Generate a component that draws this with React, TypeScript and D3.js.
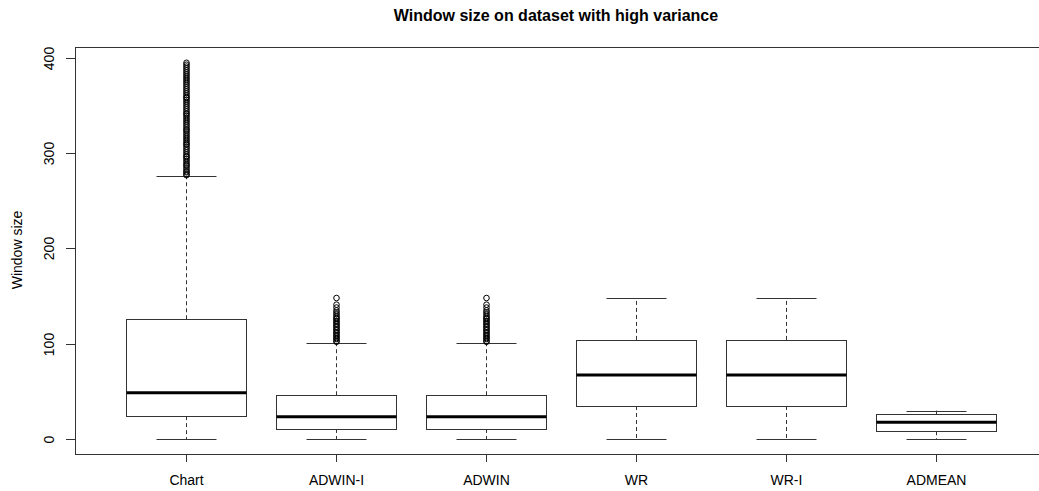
import React, { useRef, useEffect } from 'react'
import { select, scaleLinear } from 'd3'

const categories = ['Chart', 'ADWIN-I', 'ADWIN', 'WR', 'WR-I', 'ADMEAN']
// five-number summaries: lower whisker, Q1, median, Q3, upper whisker
const lowerWhisker = [0, 0, 0, 0, 0, 0]
const q1 = [24, 10.5, 10.5, 34.6, 34.6, 8.1]
const medians = [48.6, 23.4, 23.4, 67.2, 67.2, 17.5]
const q3 = [125.7, 45.9, 45.9, 104, 104, 25.9]
const upperWhisker = [276, 100.8, 100.8, 147.7, 147.7, 29.7]

const chartOutliers = [277, 278, 280, 281, 283, 285, 287, 288, 290, 292, 294, 296, 297, 299, 301, 303, 305, 307, 309, 310,
  312, 314, 316, 318, 320, 322, 324, 325, 327, 329, 331, 333, 335, 337, 339, 341, 342, 344, 346, 348, 350, 352, 354, 356,
  358, 359, 361, 363, 365, 367, 369, 371, 373, 375, 377, 379, 381, 383, 385, 387, 389, 391, 393, 395]
const adwinIOutliers = [102, 103, 105, 106, 108, 109, 111, 112, 114, 115, 117, 118, 120, 121, 123, 124, 126, 127, 129, 131,
  133, 135, 138, 141, 148]
const adwinOutliers = [102, 103, 105, 106, 108, 109, 111, 112, 114, 115, 117, 118, 120, 121, 123, 124, 126, 127, 129, 131,
  133, 135, 138, 141, 148]
const outliers = [chartOutliers, adwinIOutliers, adwinOutliers, [], [], []]

const yTicks = [0, 100, 200, 300, 400]

function App() {
  const ref = useRef(null)
  const width = 1039, height = 491

  useEffect(() => {
    const svg = select(ref.current)
    svg.selectAll('*').remove()

    const x = scaleLinear().domain([0.26, 6.74]).range([75, 1047])
    const y = scaleLinear().domain([-15.8, 411.8]).range([454, 46.8])
    const boxW = x(1.4) - x(1)
    const capW = boxW / 2
    const font = 'Arial, "Liberation Sans", sans-serif'

    // plot frame
    svg.append('rect')
      .attr('x', x(0.26) + 0.5).attr('y', Math.round(y(411.8)) + 0.5)
      .attr('width', x(6.74) - x(0.26)).attr('height', Math.round(y(-15.8)) - Math.round(y(411.8)))
      .attr('fill', 'none').attr('stroke', '#333')

    categories.forEach((c, i) => {
      const cx = Math.round(x(i + 1)) + 0.5
      const g = svg.append('g')
      // whiskers
      g.append('line').attr('x1', cx).attr('x2', cx).attr('y1', y(q3[i])).attr('y2', y(upperWhisker[i]))
        .attr('stroke', '#333').attr('stroke-dasharray', '4,3')
      g.append('line').attr('x1', cx).attr('x2', cx).attr('y1', y(q1[i])).attr('y2', y(lowerWhisker[i]))
        .attr('stroke', '#333').attr('stroke-dasharray', '4,3')
      // caps
      ;[upperWhisker[i], lowerWhisker[i]].forEach(v => {
        g.append('line').attr('x1', cx - capW).attr('x2', cx + capW)
          .attr('y1', Math.round(y(v)) + 0.5).attr('y2', Math.round(y(v)) + 0.5)
          .attr('stroke', '#333')
      })
      // box
      g.append('rect')
        .attr('x', cx - boxW).attr('y', Math.round(y(q3[i])) + 0.5)
        .attr('width', boxW * 2).attr('height', Math.round(y(q1[i])) - Math.round(y(q3[i])))
        .attr('fill', 'white').attr('stroke', '#333')
      // median
      g.append('line').attr('x1', cx - boxW).attr('x2', cx + boxW)
        .attr('y1', y(medians[i])).attr('y2', y(medians[i]))
        .attr('stroke', 'black').attr('stroke-width', 3)
      // outliers
      outliers[i].forEach(v => {
        g.append('circle').attr('cx', cx).attr('cy', y(v)).attr('r', 2.8)
          .attr('fill', 'none').attr('stroke', 'black').attr('stroke-width', 1)
      })
      // x axis tick + label
      svg.append('line').attr('x1', cx).attr('x2', cx).attr('y1', 454).attr('y2', 462)
        .attr('stroke', '#333')
      svg.append('text').attr('x', cx).attr('y', 485).attr('text-anchor', 'middle')
        .attr('font-family', font).attr('font-size', 14).text(c)
    })

    // y axis ticks
    yTicks.forEach(t => {
      const ty = Math.round(y(t)) + 0.5
      svg.append('line').attr('x1', 66).attr('x2', 75).attr('y1', ty).attr('y2', ty).attr('stroke', '#333')
      svg.append('text').attr('transform', `translate(54,${ty}) rotate(-90)`)
        .attr('text-anchor', 'middle').attr('font-family', font).attr('font-size', 14).text(t)
    })

    svg.append('text').attr('transform', `translate(22,250) rotate(-90)`)
      .attr('text-anchor', 'middle').attr('font-family', font).attr('font-size', 14).text('Window size')

    svg.append('text').attr('x', 556).attr('y', 21).attr('text-anchor', 'middle')
      .attr('font-family', font).attr('font-size', 16).attr('font-weight', 'bold')
      .text('Window size on dataset with high variance')
  }, [])

  return (
    <svg ref={ref} width={width} height={height} viewBox={`0 0 ${width} ${height}`}
      style={{ position: 'absolute', top: 0, left: 0, background: 'white' }} />
  )
}

export default App
